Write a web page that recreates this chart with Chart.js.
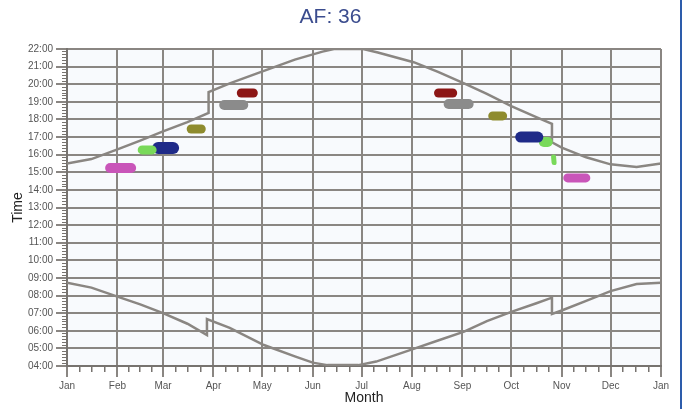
<!DOCTYPE html>
<html>
<head>
<meta charset="utf-8">
<title>AF: 36</title>
<script src="https://cdn.jsdelivr.net/npm/chart.js"></script>
<style>
  body { margin: 0; background: #fff; }
  #wrap { position: relative; width: 683px; height: 409px; }
  #edge { position: absolute; left: 680px; top: 0; width: 2px; height: 409px; background: #2d5cab; }
</style>
</head>
<body>
<div id="wrap">
  <canvas id="afChart" width="683" height="409"></canvas>
  <div id="edge"></div>
</div>
<script>
// axis ticks
const monthLabels = ['Jan', 'Feb', 'Mar', 'Apr', 'May', 'Jun', 'Jul', 'Aug', 'Sep', 'Oct', 'Nov', 'Dec', 'Jan'];
const monthStarts = [0, 31, 59, 90, 120, 151, 181, 212, 243, 273, 304, 334, 365];
const hourTicks = [4, 5, 6, 7, 8, 9, 10, 11, 12, 13, 14, 15, 16, 17, 18, 19, 20, 21, 22];

// sunset / sunrise (day of year, hours)
const sunsetDays  = [0, 15, 31, 45, 59, 74, 87, 87, 100, 121, 140, 157, 164, 182, 191, 213, 228, 244, 258, 273, 288, 298, 298, 304, 319, 334, 350, 365];
const sunsetTimes = [15.5, 15.75, 16.3, 16.8, 17.32, 17.85, 18.37, 19.55, 20.05, 20.76, 21.4, 21.85, 22.0, 22.0, 21.8, 21.25, 20.7, 20.05, 19.45, 18.75, 18.15, 17.75, 16.7, 16.4, 15.85, 15.45, 15.3, 15.5];
const sunriseDays  = [0, 15, 31, 45, 59, 74, 86, 86, 100, 121, 140, 151, 160, 179, 190, 213, 228, 244, 258, 273, 288, 298, 298, 304, 319, 334, 350, 365];
const sunriseTimes = [8.73, 8.45, 7.94, 7.5, 7.0, 6.4, 5.76, 6.67, 6.16, 5.19, 4.55, 4.19, 4.05, 4.05, 4.25, 4.97, 5.45, 5.95, 6.55, 7.07, 7.55, 7.88, 6.95, 7.15, 7.7, 8.25, 8.65, 8.73];

// activity clusters: start day, end day, time (hours)
const clusterStart = [26.5, 46.2, 56.0, 76.3, 96.6, 107.1, 228.3, 234.5, 261.6, 278.8, 293.0, 299.0, 307.7];
const clusterEnd   = [39.4, 52.3, 65.2, 82.5, 108.3, 114.5, 237.0, 246.8, 267.7, 289.3, 295.4, 299.3, 318.8];
const clusterFrom  = [15.24, 16.27, 16.38, 17.46, 18.82, 19.5, 19.5, 18.88, 18.2, 17.0, 16.72, 15.87, 14.68];
const clusterTo    = [15.24, 16.27, 16.38, 17.46, 18.82, 19.5, 19.5, 18.88, 18.2, 17.0, 16.72, 15.55, 14.68];

const clusterColors = ['#c955b9', '#79d95a', '#1f2a88', '#8e8b2e', '#8b8b8b', '#8c1616',
                       '#8c1616', '#8b8b8b', '#8e8b2e', '#1f2a88', '#79d95a', '#79d95a', '#c955b9'];
const clusterThick  = [10, 9, 12, 9, 10, 9, 9, 10, 9, 11, 10, 5, 9];

const lineGray = '#8a8682';
const font = "'Liberation Sans', Arial, sans-serif";

const datasets = [];
clusterStart.forEach((s, i) => {
    datasets.push({
        data: [{ x: s, y: clusterFrom[i] }, { x: clusterEnd[i], y: clusterTo[i] }],
        showLine: true,
        borderColor: clusterColors[i],
        borderWidth: clusterThick[i],
        borderCapStyle: 'round',
        pointRadius: 0,
        order: 0
    });
});
datasets.push({
    label: 'Sunset',
    data: sunsetDays.map((d, i) => ({ x: d, y: sunsetTimes[i] })),
    showLine: true,
    borderColor: lineGray,
    borderWidth: 2.5,
    pointRadius: 0,
    order: 1
});
datasets.push({
    label: 'Sunrise',
    data: sunriseDays.map((d, i) => ({ x: d, y: sunriseTimes[i] })),
    showLine: true,
    borderColor: lineGray,
    borderWidth: 2.5,
    pointRadius: 0,
    order: 1
});

const plotBg = {
    id: 'plotBg',
    beforeDraw(chart) {
        const a = chart.chartArea, c = chart.ctx;
        c.save();
        c.fillStyle = '#f8fafd';
        c.fillRect(a.left, a.top, a.right - a.left, a.bottom - a.top);
        c.restore();
    }
};

function hh(v) {
    return (v < 10 ? '0' : '') + v + ':00';
}

new Chart(document.getElementById('afChart').getContext('2d'), {
    type: 'scatter',
    data: { datasets: datasets },
    plugins: [plotBg],
    options: {
        responsive: false,
        animation: false,
        layout: { padding: { left: 0, right: 22, top: 0, bottom: 0 } },
        plugins: {
            legend: { display: false },
            tooltip: { enabled: false },
            title: {
                display: true,
                text: 'AF: 36',
                color: '#3b4c8e',
                font: { family: font, size: 21, weight: 'normal', lineHeight: 1.2 },
                padding: { top: 5, bottom: 18.8 }
            }
        },
        scales: {
            x: {
                type: 'linear',
                position: 'bottom',
                weight: 1,
                min: 0,
                max: 365,
                afterBuildTicks: s => { s.ticks = monthStarts.map(v => ({ value: v })); },
                afterFit: s => { s.height = 43; },
                ticks: {
                    autoSkip: false,
                    maxRotation: 0,
                    padding: 3,
                    color: '#555',
                    font: { family: font, size: 10 },
                    callback: (v, i) => monthLabels[i]
                },
                grid: { color: lineGray, lineWidth: 2, tickLength: 11 },
                border: { color: '#77736f', width: 2 },
                title: {
                    display: true,
                    text: 'Month',
                    color: '#222',
                    font: { family: font, size: 14 },
                    padding: { top: 0, bottom: 2 }
                }
            },
            xMinor: {
                type: 'linear',
                position: 'bottom',
                weight: 0,
                min: 0,
                max: 365,
                afterBuildTicks: s => {
                    const t = [];
                    for (let i = 0; i < monthStarts.length - 1; i++) {
                        const a = monthStarts[i], b = monthStarts[i + 1];
                        for (let k = 1; k < 4; k++) t.push({ value: a + (b - a) * k / 4 });
                    }
                    s.ticks = t;
                },
                afterFit: s => { s.height = 0; },
                ticks: { display: false },
                grid: { drawOnChartArea: false, color: '#77736f', lineWidth: 1.5, tickLength: 6 },
                border: { display: false }
            },
            y: {
                type: 'linear',
                position: 'left',
                weight: 1,
                min: 4,
                max: 22,
                afterBuildTicks: s => { s.ticks = hourTicks.map(v => ({ value: v })); },
                afterFit: s => { s.width = 67; },
                ticks: {
                    autoSkip: false,
                    padding: 3,
                    color: '#555',
                    font: { family: font, size: 10 },
                    callback: v => hh(v)
                },
                grid: { color: lineGray, lineWidth: 2, tickLength: 11 },
                border: { color: '#77736f', width: 2 },
                title: {
                    display: true,
                    text: 'Time',
                    color: '#222',
                    font: { family: font, size: 14 },
                    padding: { top: 10, bottom: 0 }
                }
            },
            yMinor: {
                type: 'linear',
                position: 'left',
                weight: 0,
                min: 4,
                max: 22,
                afterBuildTicks: s => {
                    const t = [];
                    for (let i = 0; i < hourTicks.length - 1; i++) {
                        for (let k = 1; k < 6; k++) t.push({ value: hourTicks[i] + k / 6 });
                    }
                    s.ticks = t;
                },
                afterFit: s => { s.width = 0; },
                ticks: { display: false },
                grid: { drawOnChartArea: false, color: '#77736f', lineWidth: 1, tickLength: 5 },
                border: { display: false }
            }
        }
    }
});
</script>
</body>
</html>
